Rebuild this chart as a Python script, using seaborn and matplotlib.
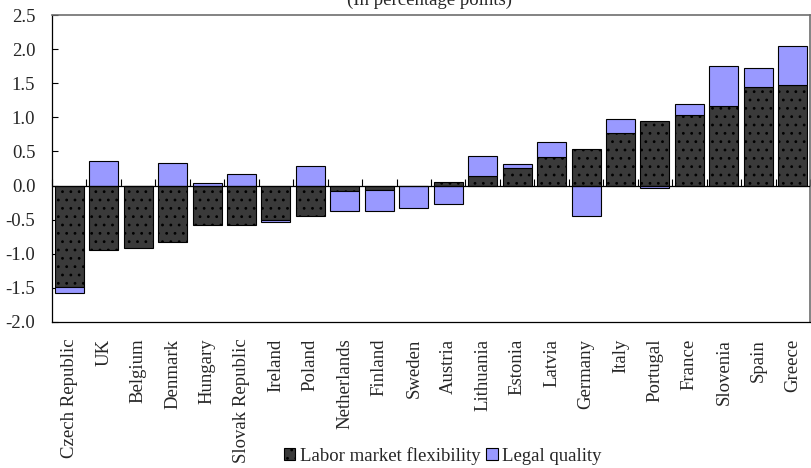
import matplotlib
matplotlib.use("Agg")
import matplotlib.pyplot as plt
import seaborn as sns
import numpy as np
import pandas as pd
from matplotlib.patches import Patch

countries = ["Czech Republic", "UK", "Belgium", "Denmark", "Hungary", "Slovak Republic",
             "Ireland", "Poland", "Netherlands", "Finland", "Sweden", "Austria",
             "Lithuania", "Estonia", "Latvia", "Germany", "Italy", "Portugal",
             "France", "Slovenia", "Spain", "Greece"]
labor = [-1.48, -0.94, -0.91, -0.83, -0.58, -0.58, -0.50, -0.45, -0.08, -0.07, -0.01, 0.05,
         0.14, 0.26, 0.42, 0.54, 0.77, 0.95, 1.03, 1.17, 1.44, 1.47]
legal = [-0.09, 0.36, 0.0, 0.33, 0.04, 0.17, -0.03, 0.28, -0.30, -0.31, -0.32, -0.27,
         0.30, 0.06, 0.22, -0.44, 0.21, -0.03, 0.16, 0.58, 0.28, 0.57]
yticks = [-2.0, -1.5, -1.0, -0.5, 0.0, 0.5, 1.0, 1.5, 2.0, 2.5]
title = "(In percentage points)"
series_names = ["Labor market flexibility", "Legal quality"]

sns.set_theme(style="white")
plt.rcParams["font.family"] = ["Liberation Serif", "DejaVu Serif"]
plt.rcParams["axes.unicode_minus"] = False
plt.rcParams["hatch.color"] = "black"
plt.rcParams["hatch.linewidth"] = 0.8

FS = 13.5

df = pd.DataFrame({"country": countries, "labor": labor, "legal": legal})
df["bottom"] = np.where(df["legal"] >= 0, np.maximum(df["labor"], 0), np.minimum(df["labor"], 0))

fig = plt.figure(figsize=(8.12, 4.68), dpi=100)
ax = fig.add_axes([52 / 812, 1 - 322 / 468, (810 - 52) / 812, (322 - 15) / 468])

dark = "#3a3a3a"
blue = "#9999FF"
width = 0.84

sns.barplot(data=df, x="country", y="labor", ax=ax, color=dark, width=width,
            edgecolor="black", linewidth=0.8, hatch="..", saturation=1)
for p in ax.patches:
    p.set_facecolor(dark)
    p.set_hatch("..")
x = np.arange(len(countries))
ax.bar(x, df["legal"], bottom=df["bottom"], width=width, color=blue,
       edgecolor="black", linewidth=0.8)

ax.set_xlim(-0.5, len(countries) - 0.5)
ax.set_ylim(-2.0, 2.5)
ax.set_yticks(yticks)
ax.set_yticklabels([f"{v:.1f}" for v in yticks], fontsize=FS)
ax.tick_params(axis="y", direction="in", length=4, width=0.8, color="black", pad=12, left=True)
ax.set_xticks(x)
ax.set_xticklabels(countries, rotation=90, fontsize=FS, va="top", ha="center")
ax.tick_params(axis="x", length=0, pad=12)
ax.set_xlabel("")
ax.set_ylabel("")

for s in ["left", "bottom"]:
    ax.spines[s].set_color("black")
    ax.spines[s].set_linewidth(0.9)
for s in ["top", "right"]:
    ax.spines[s].set_color("#6e6e6e")
    ax.spines[s].set_linewidth(1.2)
    ax.spines[s].set_visible(True)

# zero category axis with boundary ticks
ax.axhline(0, color="black", linewidth=0.9, zorder=5)
sec = ax.secondary_xaxis((0 - (-2.0)) / 4.5)
sec.set_xticks(np.arange(len(countries) + 1) - 0.5)
sec.set_xticklabels([])
sec.tick_params(axis="x", direction="in", length=5, width=0.8, color="black")
sec.spines["bottom"].set_visible(False)

fig.text(430 / 812, 1 - 5 / 468, title, ha="center", va="baseline", fontsize=FS)

handles = [Patch(facecolor=dark, edgecolor="black", hatch="..", linewidth=0.8),
           Patch(facecolor=blue, edgecolor="black", linewidth=0.8)]
fig.legend(handles, series_names, loc="center", bbox_to_anchor=(443 / 812, 1 - 456 / 468),
           ncol=2, frameon=False, fontsize=FS, handlelength=0.6, handleheight=0.6,
           handletextpad=0.25, columnspacing=0.3, borderpad=0)

fig.savefig("out.png", dpi=100)
